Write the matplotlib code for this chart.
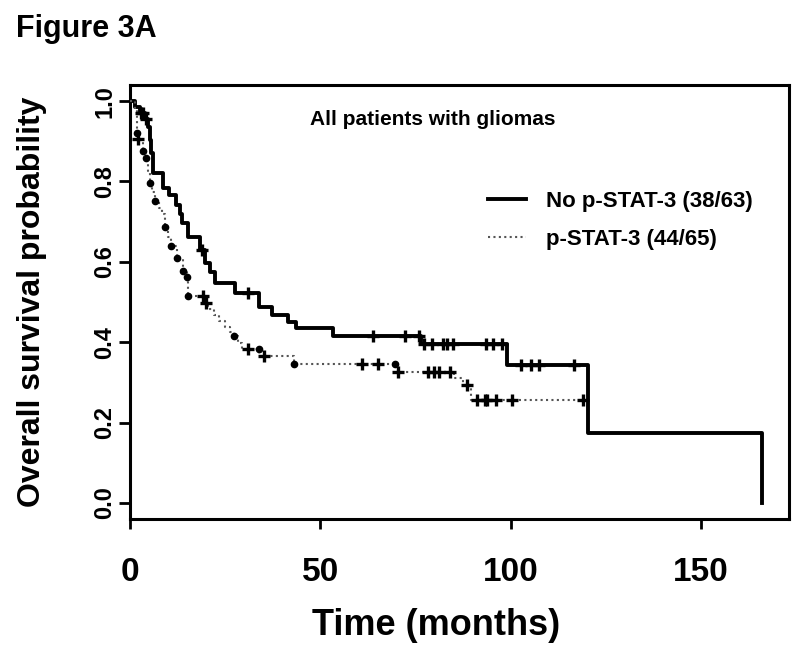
import numpy as np
import matplotlib
matplotlib.use("Agg")
import matplotlib.pyplot as plt

# Kaplan-Meier step curves (time in months, survival after step)
no_stat_t = [0, 1.3, 2.6, 3.9, 4.7, 5.2, 5.6, 6.1, 8.7, 10.3, 12.0, 13.0, 13.6, 15.2,
             18.4, 19.7, 21.0, 22.3, 27.6, 33.9, 37.3, 41.5, 43.6, 53.3, 76.5, 99.0,
             120.3, 166.0]
no_stat_s = [1.0, 0.985, 0.97, 0.955, 0.935, 0.903, 0.87, 0.82, 0.784, 0.766, 0.741, 0.72,
             0.697, 0.662, 0.629, 0.597, 0.575, 0.547, 0.522, 0.488, 0.468, 0.45, 0.435,
             0.415, 0.395, 0.343, 0.174, 0.0]
no_stat_cens = [2.9, 3.4, 4.2, 18.9, 31.0, 63.7, 72.2, 75.8, 77.2, 79.2, 82.1, 83.3, 84.7,
                93.6, 95.2, 97.8, 102.8, 105.2, 107.4, 116.6]

stat_t = [0, 1.3, 1.8, 2.0, 3.4, 4.2, 4.7, 5.2, 5.9, 6.6, 7.6, 8.4, 9.2, 10.0, 10.8,
          12.3, 13.9, 15.0, 15.2, 19.6, 20.6, 22.0, 23.5, 25.0, 26.3, 27.3, 28.3, 29.4,
          34.0, 43.0, 69.8, 85.0, 87.5, 89.5, 118.9]
stat_s = [1.0, 0.978, 0.92, 0.905, 0.876, 0.858, 0.827, 0.796, 0.773, 0.751, 0.735, 0.719,
          0.687, 0.663, 0.639, 0.609, 0.577, 0.562, 0.515, 0.498, 0.483, 0.468, 0.453,
          0.438, 0.425, 0.415, 0.399, 0.383, 0.366, 0.346, 0.326, 0.31, 0.294, 0.256, 0.256]
stat_cens = [2.2, 19.2, 19.9, 31.0, 35.2, 60.9, 65.1, 70.4, 78.3, 79.7, 81.2, 84.0, 88.6,
             91.0, 93.2, 93.8, 96.2, 100.3, 118.9]
stat_events = [1.8, 3.4, 4.2, 5.2, 6.6, 9.2, 10.8, 12.3, 13.9, 15.0, 15.2, 27.3, 33.9,
               43.0, 69.6]

x_ticks = [0, 50, 100, 150]
y_ticks = [0.0, 0.2, 0.4, 0.6, 0.8, 1.0]


def level_at(times, levels, t):
    idx = np.searchsorted(times, t, side="right") - 1
    return np.asarray(levels)[idx]


plt.rcParams["font.family"] = ["Liberation Sans", "DejaVu Sans"]
plt.rcParams["font.weight"] = "bold"

fig = plt.figure(figsize=(8, 6.54), dpi=100)
ax = fig.add_axes([0.1625, 0.2064, 0.8235, 0.6636])

solid, = ax.step(no_stat_t, no_stat_s, where="post", color="black", lw=2.8,
                 label="No p-STAT-3 (38/63)", zorder=3)
ax.plot(no_stat_cens, level_at(no_stat_t, no_stat_s, no_stat_cens), "+", color="black",
        ms=9, mew=2.4, zorder=4)

dotted, = ax.step(stat_t, stat_s, where="post", color="#555555", lw=1.5,
                  linestyle=(0, (1, 1.6)), label="p-STAT-3 (44/65)", zorder=3)
ax.plot(stat_cens, level_at(stat_t, stat_s, stat_cens), "+", color="black",
        ms=9, mew=2.4, zorder=4)
ax.plot(stat_events, level_at(stat_t, stat_s, stat_events), "o", color="black",
        ms=4.5, zorder=4)

ax.set_xlim(0, 173)
ax.set_ylim(-0.04, 1.04)
ax.set_xticks(x_ticks)
ax.set_yticks(y_ticks)
ax.set_xticklabels([str(v) for v in x_ticks], fontsize=24, fontweight="bold")
ax.set_yticklabels([f"{v:.1f}" for v in y_ticks], fontsize=17, rotation=90,
                   va="center", fontweight="bold")
ax.tick_params(axis="x", length=7, width=2, pad=20)
ax.tick_params(axis="y", length=8, width=2, pad=2)
for sp in ax.spines.values():
    sp.set_linewidth(2.2)

ax.set_xlabel("Time (months)", fontsize=26, fontweight="bold", labelpad=15)
ax.xaxis.label.set_x(0.465)
ax.set_ylabel("Overall survival probability", fontsize=23, fontweight="bold", labelpad=33)

ax.text(0.46, 0.92, "All patients with gliomas", transform=ax.transAxes,
        fontsize=15, fontweight="bold", ha="center", va="center")

ax.legend(handles=[solid, dotted], loc="upper left", bbox_to_anchor=(0.53, 0.776),
          frameon=False, fontsize=16, handlelength=1.7, handletextpad=0.9,
          labelspacing=0.75, borderaxespad=0)

fig.text(0.02, 0.955, "Figure 3A", fontsize=22, fontweight="bold", ha="left", va="center")

fig.savefig("out.png", dpi=100)
